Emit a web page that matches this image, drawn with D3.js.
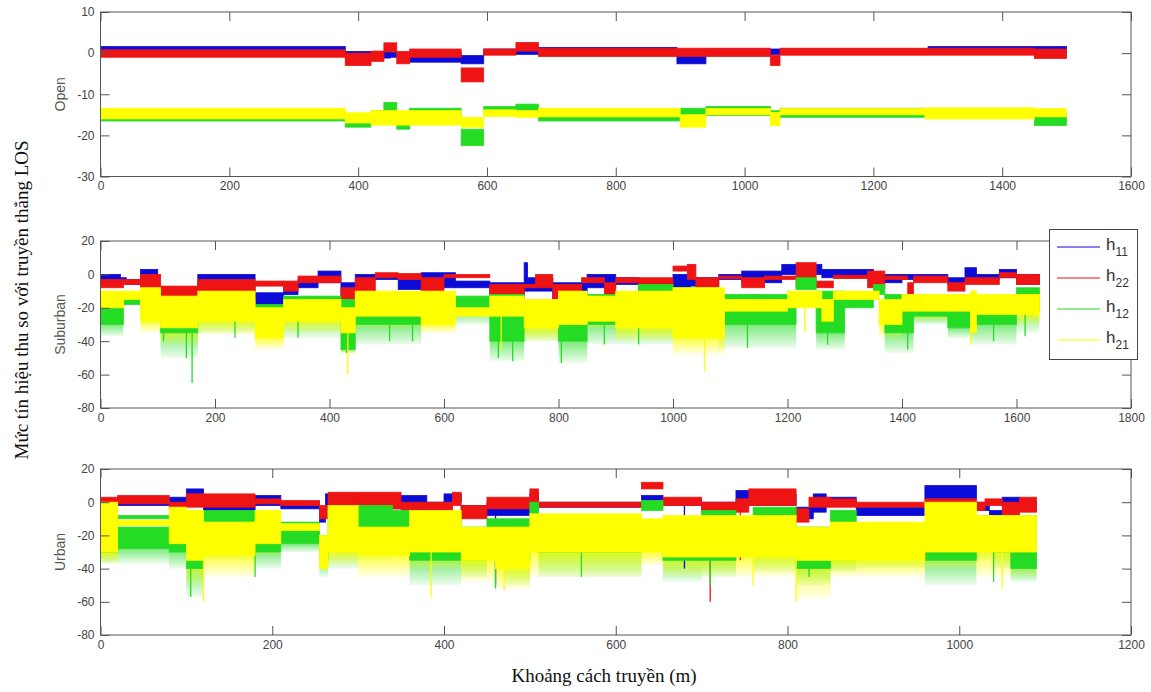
<!DOCTYPE html>
<html>
<head>
<meta charset="utf-8">
<script src="https://cdn.jsdelivr.net/npm/d3@7"></script>
<style>
  body { margin: 0; background: #fff; }
  .tick text { font-family: "Liberation Sans", Arial, sans-serif; font-size: 12px; fill: #444; }
  .tick line { stroke: #555; }
</style>
</head>
<body>
<div id="chart"></div>
<script>
// series names, in plot order (later ones drawn on top)
var seriesNames = ["h11", "h22", "h12", "h21"];
var seriesSub = ["11", "22", "12", "21"];
var seriesColors = ["#0b0bd8", "#ee1414", "#25dc25", "#ffff00"];

// tick labels
var openYTicks = [-30, -20, -10, 0, 10];
var openXTicks = [0, 200, 400, 600, 800, 1000, 1200, 1400, 1600];
var subYTicks = [-80, -60, -40, -20, 0, 20];
var subXTicks = [0, 200, 400, 600, 800, 1000, 1200, 1400, 1600, 1800];
var urbYTicks = [-80, -60, -40, -20, 0, 20];
var urbXTicks = [0, 200, 400, 600, 800, 1000, 1200];

// signal envelopes:
// [from m, to m, low dB, high dB, (optional) depth reached by the sparse fades]
var open_h11 = [[0,380,-0.5,1.6],[380,450,-1.2,0.4],[450,480,-1,0.2],[480,560,-2.2,0.2],[560,595,-2.6,-0.6],[595,680,-0.3,1],
  [680,895,-0.2,1.4],[895,940,-2.6,-0.6],[940,1285,-0.3,1],[1285,1500,-0.2,1.6]];
var open_h22 = [[0,380,-1,0.8],[380,420,-3,0],[420,440,-2,0.5],[440,460,0.3,2.5],[460,480,-2.6,0.4],[480,560,-1,1],
  [560,595,-7,-3.6],[595,645,-0.5,1],[645,680,0.5,2.6],[680,1040,-0.8,1.2],[1040,1055,-3,-0.5],[1055,1450,-0.5,1.2],[1450,1500,-1.3,1]];
var open_h12 = [[0,380,-16.5,-14.6],[380,420,-18,-15],[420,440,-17,-14],[440,460,-14.6,-12],[460,480,-18.5,-15],[480,560,-15.5,-13.4],
  [560,595,-22.5,-18.5],[595,645,-15,-13],[645,680,-14.5,-12.4],[680,900,-16.5,-14],[900,940,-15,-13.4],[940,1040,-15.2,-13],
  [1040,1055,-16,-14],[1055,1280,-15.6,-13.4],[1280,1450,-15.5,-14],[1450,1500,-17.6,-14.4]];
var open_h21 = [[0,380,-16,-13.4],[380,420,-17,-14.5],[420,560,-17.5,-14],[560,595,-18,-15.6],[595,645,-15.4,-13.8],
  [645,680,-15.6,-14],[680,900,-15.5,-13.4],[900,940,-18,-15],[940,1040,-15,-13.5],[1040,1055,-17.6,-14.4],
  [1055,1280,-15,-13.5],[1280,1450,-16,-13.3],[1450,1500,-15.5,-13.5]];

var sub_h11 = [[0,35,-4,0],[35,45,-5,-2],[45,70,-6,-3],[70,100,-4,3],[100,170,-16,-8],[170,270,-10,0],[270,320,-20,-11],
  [320,345,-12,-5],[345,380,-8,-3],[380,420,-5,2],[420,445,-20,-5],[445,475,-12,0],[475,520,-3,0],[520,560,-9,-3],
  [560,620,-8,1],[620,680,-8,-4],[680,740,-18,-5],[740,746,-10,7],[746,790,-10,-2],[790,850,-15,-5],[850,900,-8,0],
  [900,940,-6,-2],[940,1000,-10,-4],[1000,1030,-8,0],[1030,1080,-7,-2],[1080,1120,-3,0],[1120,1190,-5,2],[1190,1260,0,6],
  [1260,1350,-2,3],[1350,1400,-5,0],[1400,1480,-3,0],[1480,1510,-6,-2],[1510,1530,-4,4],[1530,1570,-3,0],[1570,1600,-2,3],[1600,1640,-6,0]];
var sub_h22 = [[0,40,-8,-3],[40,70,-6,-3],[70,105,-8,0],[105,170,-17,-7],[170,270,-12,-3],[270,320,-7,-4],[320,345,-10,-4],
  [345,420,-5,-1],[420,445,-22,-8],[445,480,-15,-2],[480,520,-2,1],[520,560,-3,0.5],[560,600,-15,-2],[600,680,-2,0],
  [680,740,-20,-6],[740,760,-8,-6],[760,790,-8,0],[790,840,-20,-6],[840,880,-5,-2],[880,900,-14,-5],[900,940,-5,-2],
  [940,1000,-8,-2],[1000,1025,2,5],[1025,1040,-3,6],[1040,1080,-10,-2],[1080,1120,-2.5,-1],[1120,1160,-8,-2],[1160,1215,-3,-1],
  [1215,1250,-8,7],[1250,1280,-8,-4],[1280,1340,-2.5,-0.5],[1340,1370,-8,2],[1370,1410,-3,-1],[1410,1420,-15,-5],
  [1420,1480,-5,-1],[1480,1510,-10,-5],[1510,1570,-6,-2],[1570,1600,-2,1],[1600,1640,-6,0]];
var sub_h12 = [[0,40,-30,-17,-37],[40,70,-18,-14],[70,105,-22,-10,-30],[105,170,-35,-15,-50],[170,270,-25,-15,-35],
  [270,320,-22,-18],[320,420,-25,-13,-38],[420,445,-45,-15,-47],[445,560,-30,-12,-42],[560,680,-22,-13,-30],
  [680,740,-40,-12,-52],[740,800,-30,-15,-40],[800,850,-40,-15,-53],[850,940,-30,-12,-42],[940,1000,-30,-6,-42],
  [1000,1080,-28,-8,-40],[1080,1215,-30,-12,-44],[1215,1250,-9,-2],[1250,1300,-35,-10,-45],[1300,1350,-20,-15],
  [1350,1370,-12,-6],[1370,1420,-35,-12,-47],[1420,1480,-25,-15,-30],[1480,1520,-32,-15,-38],[1520,1600,-30,-15,-42],
  [1600,1640,-22,-8,-35]];
var sub_h21 = [[0,40,-20,-10],[40,70,-15,-10],[70,105,-28,-8,-35],[105,170,-32,-13,-42],[170,270,-28,-10,-36],
  [270,320,-38,-20,-45],[320,420,-28,-15,-35],[420,445,-35,-20,-48],[445,560,-25,-10,-32],[560,620,-30,-10,-35],
  [620,680,-25,-20],[680,740,-25,-13],[740,800,-32,-15,-40],[800,850,-30,-10,-35],[850,900,-28,-13,-32],
  [900,1000,-32,-10,-40],[1000,1090,-38,-8,-48],[1090,1200,-22,-15],[1200,1260,-20,-10],[1260,1280,-28,-15],
  [1280,1360,-15,-10],[1360,1400,-30,-15,-38],[1400,1520,-22,-12,-28],[1520,1530,-35,-10],[1530,1640,-24,-12,-30]];

var urb_h11 = [[0,10,-12,-3],[10,80,-2,2],[80,100,0,3],[100,120,2,8],[120,180,-6,2],[180,210,-2,4],[210,255,-4,0],
  [255,262,-12,-3],[262,300,-2,5],[300,380,-4,4],[380,400,-8,0],[400,420,0,5],[420,450,-8,-2],[450,500,-8,0],[500,510,-5,5],
  [510,630,-3,0],[630,655,1,4],[655,700,-2,2],[700,740,-6,0],[740,760,-2,7],[760,810,-2,5],[810,830,-10,-3],[830,845,-6,5],
  [845,880,-2,3],[880,960,-8,-3],[960,1020,2,10],[1020,1035,-5,0],[1035,1050,-10,-5],[1050,1070,-2,3],[1070,1090,-5,0]];
var urb_h22 = [[0,20,-2,3],[20,80,-1,4],[80,100,-4,0],[100,180,-3,5],[180,210,-1,2],[210,255,-2,1],[255,265,-10,-2],
  [265,300,-2,6],[300,350,-4,6],[350,410,-5,0],[410,420,-2,6],[420,450,-10,-2],[450,500,-4,3],[500,510,0,8],[510,630,-3,0],
  [630,655,8,12],[655,700,-2,3],[700,740,-6,0],[740,755,-6,2],[755,810,-2,8],[810,825,-12,-4],[825,850,-3,3],[850,880,-3,2],
  [880,960,-3,0],[960,1020,-3,2],[1020,1030,-5,0],[1030,1050,-2,2],[1050,1070,-8,0],[1070,1090,-6,3]];
var urb_h12 = [[0,20,-30,-8,-37],[20,80,-28,-15,-37],[20,80,-10,-8],[80,100,-30,-10,-40],[100,120,-40,-20,-57],
  [120,180,-25,-5,-35],[180,210,-30,-12,-40],[210,255,-25,-12,-30],[255,265,-35,-20,-45],[265,300,-25,-5,-40],
  [300,340,-20,-2,-35],[340,360,-30,-5],[360,420,-35,-10,-50],[420,450,-35,-15,-45],[450,470,-25,-10],
  [470,500,-35,-10,-50],[500,510,-20,0],[510,630,-30,-10,-45],[630,655,-5,1],[655,700,-35,-10,-48],[700,740,-35,-5,-45],
  [740,760,-30,-10],[760,810,-30,-3,-42],[810,850,-40,-15,-50],[850,880,-35,-5,-42],[880,960,-30,-15,-40],
  [960,1020,-35,-15,-50],[1020,1040,-25,-8,-35],[1040,1060,-30,-15,-40],[1060,1090,-40,-8,-48]];
var urb_h21 = [[0,20,-30,0,-37],[20,80,-14,-11],[80,100,-25,-3,-30],[100,120,-35,-5,-50],[120,180,-32,-12,-45],
  [180,210,-25,-5,-32],[210,255,-17,-13],[255,265,-40,-20],[265,300,-30,-2,-38],[300,360,-32,-15,-45],
  [360,420,-30,-5,-40],[420,460,-35,-15,-48],[460,500,-40,-15,-52],[500,630,-30,-7,-45],[630,655,-30,-10,-38],
  [655,810,-33,-8,-45],[810,850,-35,-15,-58],[850,960,-35,-12,-45],[960,1020,-30,0,-40],[1020,1090,-30,-8,-45]];

// downward spikes: [m, dB]
var sub_h12_spikes = [[110,-40],[150,-50],[160,-65],[235,-38],[345,-38],[430,-47],[505,-40],[545,-40],[695,-50],
  [720,-52],[805,-53],[880,-42],[940,-42],[1130,-44],[1270,-42],[1410,-45],[1560,-40],[1615,-37]];
var sub_h21_spikes = [[432,-60],[700,-45],[1055,-58],[1230,-35],[1520,-42]];
var urb_h12_spikes = [[105,-57],[180,-45],[460,-52],[560,-45],[710,-50],[825,-45],[1040,-48]];
var urb_h21_spikes = [[120,-60],[385,-57],[470,-53],[760,-50],[810,-60],[1050,-52]];
var urb_h22_spikes = [[710,-60],[745,-35]];
var urb_h11_spikes = [[460,-50],[680,-40]];

var panels = [
  { label: "Open", top: 12, bottom: 176.5, xMax: 1600, yMin: -30, yMax: 10, xTicks: openXTicks, yTicks: openYTicks,
    series: [open_h11, open_h22, open_h12, open_h21], spikes: [[], [], [], []] },
  { label: "Suburban", top: 241, bottom: 408, xMax: 1800, yMin: -80, yMax: 20, xTicks: subXTicks, yTicks: subYTicks,
    series: [sub_h11, sub_h22, sub_h12, sub_h21], spikes: [[], [], sub_h12_spikes, sub_h21_spikes] },
  { label: "Urban", top: 469, bottom: 635, xMax: 1200, yMin: -80, yMax: 20, xTicks: urbXTicks, yTicks: urbYTicks,
    series: [urb_h11, urb_h22, urb_h12, urb_h21], spikes: [urb_h11_spikes, urb_h22_spikes, urb_h12_spikes, urb_h21_spikes] }
];

var width = 1151, height = 692;
var left = 100.5, right = 1131;

var svg = d3.select("#chart").append("svg")
  .attr("width", width)
  .attr("height", height);

// vertical fades for the sparse region under each band
var defs = svg.append("defs");
seriesColors.forEach(function (c, i) {
  var grad = defs.append("linearGradient")
    .attr("id", "fade" + i)
    .attr("x1", 0).attr("y1", 0).attr("x2", 0).attr("y2", 1);
  grad.append("stop").attr("offset", "0%").attr("stop-color", c).attr("stop-opacity", i === 3 ? 0.75 : 0.6);
  grad.append("stop").attr("offset", "100%").attr("stop-color", c).attr("stop-opacity", 0.08);
});

panels.forEach(function (p, pi) {
  var x = d3.scaleLinear().domain([0, p.xMax]).range([left, right]);
  var y = d3.scaleLinear().domain([p.yMin, p.yMax]).range([p.bottom, p.top]);

  var g = svg.append("g");
  var clipId = "clip" + pi;
  g.append("clipPath").attr("id", clipId)
    .append("rect").attr("x", left).attr("y", p.top).attr("width", right - left).attr("height", p.bottom - p.top);

  var plot = g.append("g").attr("clip-path", "url(#" + clipId + ")");
  var tails = plot.append("g");
  var cores = plot.append("g");

  p.series.forEach(function (segs, si) {
    var c = seriesColors[si];

    // sparse fading region below the dense band
    tails.selectAll(null)
      .data(segs.filter(function (s) { return s.length > 4; }))
      .enter()
      .append("rect")
      .attr("x", function (d) { return x(d[0]); })
      .attr("width", function (d) { return x(d[1]) - x(d[0]); })
      .attr("y", function (d) { return y(d[2]); })
      .attr("height", function (d) { return y(d[4]) - y(d[2]); })
      .attr("fill", "url(#fade" + si + ")");

    cores.selectAll(null)
      .data(segs)
      .enter()
      .append("rect")
      .attr("x", function (d) { return x(d[0]); })
      .attr("width", function (d) { return x(d[1]) - x(d[0]); })
      .attr("y", function (d) { return y(d[3]); })
      .attr("height", function (d) { return y(d[2]) - y(d[3]); })
      .attr("fill", c)
      .attr("stroke", c)
      .attr("stroke-width", 0.8);

    // spikes hang from the band's lower edge
    cores.selectAll(null)
      .data(p.spikes[si])
      .enter()
      .append("line")
      .attr("x1", function (d) { return x(d[0]); })
      .attr("x2", function (d) { return x(d[0]); })
      .attr("y1", function (d) {
        var seg = segs.find(function (s) { return d[0] >= s[0] && d[0] <= s[1]; });
        return y(seg ? seg[2] : d[1]);
      })
      .attr("y2", function (d) { return y(d[1]); })
      .attr("stroke", c)
      .attr("stroke-width", 1.3);
  });

  // axes with inward ticks, MATLAB style
  var tk = 9;
  g.append("g")
    .attr("transform", "translate(0," + p.bottom + ")")
    .call(d3.axisBottom(x).tickValues(p.xTicks).tickSize(-tk).tickPadding(5).tickFormat(function (d) { return String(d); }))
    .call(function (a) { a.select(".domain").remove(); });
  g.append("g")
    .attr("transform", "translate(0," + p.top + ")")
    .call(d3.axisTop(x).tickValues(p.xTicks).tickSize(-tk).tickFormat(""))
    .call(function (a) { a.select(".domain").remove(); });
  g.append("g")
    .attr("transform", "translate(" + left + ",0)")
    .call(d3.axisLeft(y).tickValues(p.yTicks).tickSize(-tk).tickPadding(6).tickFormat(function (d) { return String(d); }))
    .call(function (a) { a.select(".domain").remove(); });
  g.append("g")
    .attr("transform", "translate(" + right + ",0)")
    .call(d3.axisRight(y).tickValues(p.yTicks).tickSize(-tk).tickFormat(""))
    .call(function (a) { a.select(".domain").remove(); });

  g.append("rect")
    .attr("x", left).attr("y", p.top)
    .attr("width", right - left).attr("height", p.bottom - p.top)
    .attr("fill", "none").attr("stroke", "#555").attr("stroke-width", 1);

  g.append("text")
    .attr("transform", "translate(65," + ((p.top + p.bottom) / 2) + ") rotate(-90)")
    .attr("text-anchor", "middle")
    .style("font-family", "Liberation Sans, Arial, sans-serif")
    .style("font-size", "14px")
    .style("fill", "#555")
    .text(p.label);
});

// legend
var lg = svg.append("g");
lg.append("rect")
  .attr("x", 1049.5).attr("y", 229.5).attr("width", 88).attr("height", 130)
  .attr("fill", "#fff").attr("stroke", "#444");
seriesNames.forEach(function (n, i) {
  var yy = 247 + i * 31;
  lg.append("line")
    .attr("x1", 1057).attr("x2", 1100).attr("y1", yy).attr("y2", yy)
    .attr("stroke", seriesColors[i]).attr("stroke-width", 1.2);
  var t = lg.append("text")
    .attr("x", 1106).attr("y", yy + 3)
    .style("font-family", "Liberation Sans, Arial, sans-serif")
    .style("font-size", "17px")
    .style("fill", "#333");
  t.append("tspan").text("h");
  t.append("tspan").attr("dy", 6).style("font-size", "12px").text(seriesSub[i]);
});

// axis titles
svg.append("text")
  .attr("transform", "translate(28,300) rotate(-90)")
  .attr("text-anchor", "middle")
  .style("font-family", "Liberation Serif, Times New Roman, serif")
  .style("font-size", "19px")
  .style("fill", "#111")
  .text("Mức tín hiệu thu so với truyền thẳng LOS");

svg.append("text")
  .attr("x", 604).attr("y", 682)
  .attr("text-anchor", "middle")
  .style("font-family", "Liberation Serif, Times New Roman, serif")
  .style("font-size", "19px")
  .style("fill", "#111")
  .text("Khoảng cách truyền (m)");
</script>
</body>
</html>
